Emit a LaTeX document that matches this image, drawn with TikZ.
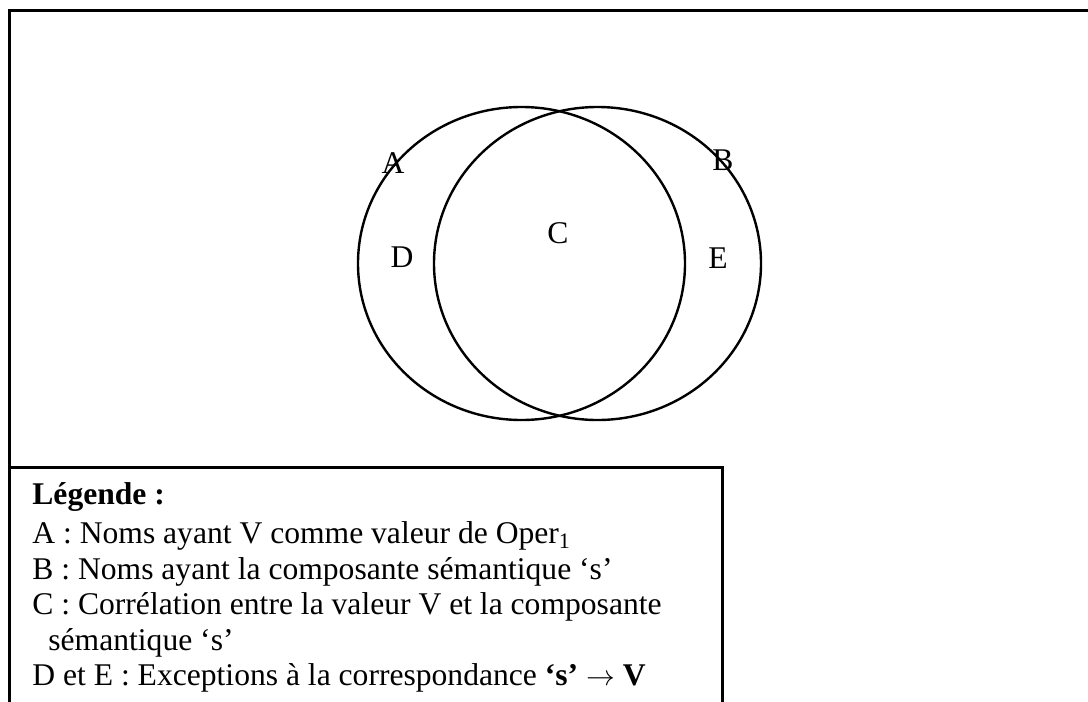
\documentclass[tikz,border=0pt]{standalone}
\usepackage{fontspec}
\setmainfont{Liberation Serif}
\usetikzlibrary{shapes.geometric}

\begin{document}
\begin{tikzpicture}[
    x=0.5pt, y=-0.5pt,
    every node/.style={font=\fontsize{15.8}{17.75}\selectfont},
    frameline/.style={line width=1.5pt, draw=black},
    setellipse/.style={ellipse, draw=black, line width=1.2pt, inner sep=0pt, minimum width=163.5pt, minimum height=156.5pt},
    setlabel/.style={inner sep=0pt},
    legendtext/.style={inner sep=0pt, align=left, anchor=north west}
]
\useasboundingbox (0,0) rectangle (1088,702);

% Frame
\coordinate (frameTL) at (9,10);
\coordinate (frameTR) at (1088,10);
\coordinate (frameBL) at (9,702);
\draw[frameline] (frameTR) -- (frameTL) -- (frameBL);

% Sets
\node[setellipse] (setA) at (521.5,263.5) {};
\node[setellipse] (setB) at (597.5,263.5) {};

% Region labels
\node[setlabel] (labA) at (393,163) {A};
\node[setlabel] (labB) at (723,160) {B};
\node[setlabel] (labC) at (558,233) {C};
\node[setlabel] (labD) at (402,257) {D};
\node[setlabel] (labE) at (718,258) {E};

% Legend
\coordinate (legTL) at (9,467);
\coordinate (legTR) at (722,467);
\coordinate (legBR) at (722,702);
\draw[frameline] (legTL) -- (legTR) -- (legBR);
\node[legendtext] (legend) at (32,482) {\textbf{Légende :}\\[2pt]
A : Noms ayant V comme valeur de Oper\textsubscript{1}\\
B : Noms ayant la composante sémantique `s'\\
C : Corrélation entre la valeur V et la composante\\
\hspace{8pt}sémantique `s'\\
D et E : Exceptions à la correspondance \textbf{`s'} $\rightarrow$ \textbf{V}};

\end{tikzpicture}
\end{document}
